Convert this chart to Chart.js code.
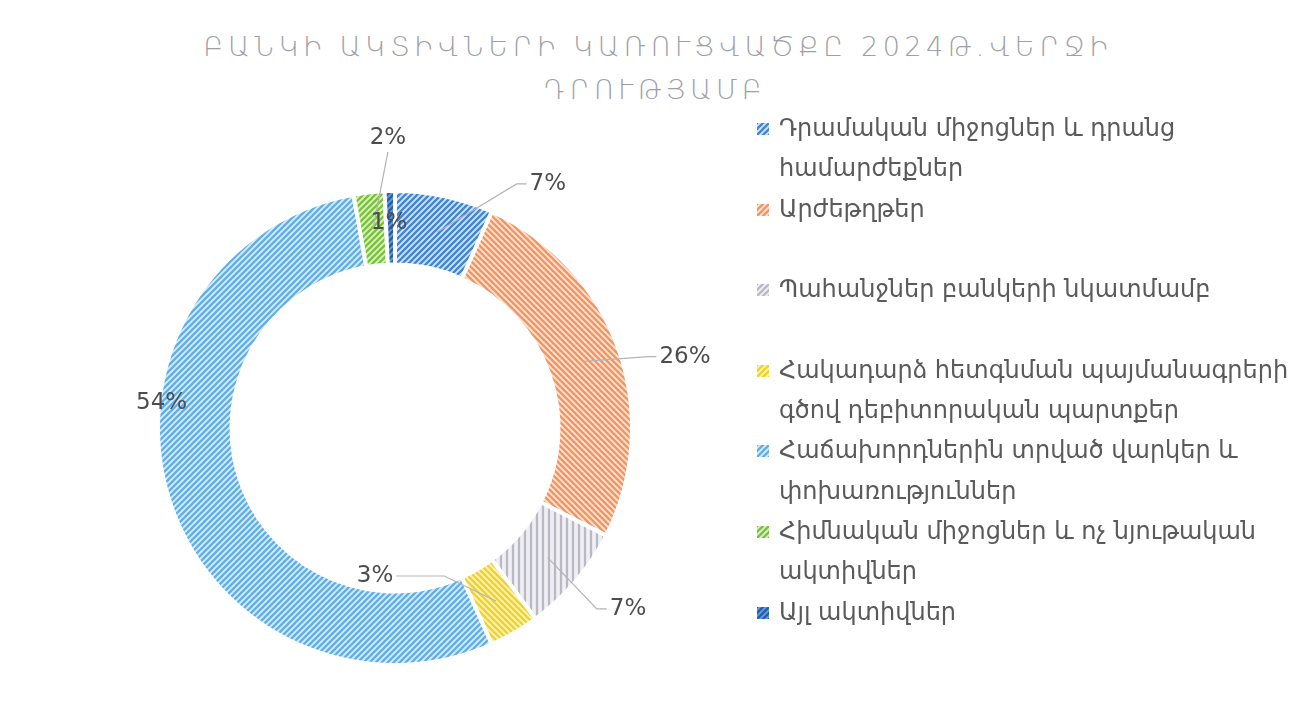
<!DOCTYPE html>
<html lang="hy">
<head>
<meta charset="utf-8">
<script src="https://cdn.jsdelivr.net/npm/chart.js@4.4.1/dist/chart.umd.min.js"></script>
<style>
  html, body { margin: 0; padding: 0; background: #fff; }
  body { width: 1316px; height: 704px; position: relative; overflow: hidden; font-family: "DejaVu Sans", sans-serif; }
  #chart-wrap { position: absolute; left: 0; top: 0; width: 1316px; height: 704px; }
  .title-line { position: absolute; transform: translateX(-50%); color: #9e9ea6; font-size: 27px; font-weight: 200; letter-spacing: 4.5px; line-height: 32px; white-space: nowrap; }
  #legend { position: absolute; left: 757px; top: 108px; margin: 0; padding: 0; list-style: none; }
  #legend li { position: relative; padding-left: 22px; color: #5a5a5a; font-size: 24px; line-height: 40.3px; white-space: nowrap; }
  #legend li canvas { position: absolute; left: 0; top: 15px; width: 12px; height: 12px; }
  #legend .line { height: 40.3px; }
</style>
</head>
<body>
<div class="title-line" id="title-1" style="left: 658px; top: 31px;"></div>
<div class="title-line" id="title-2" style="left: 655px; top: 74px;"></div>
<div id="chart-wrap"><canvas id="chart"></canvas></div>
<ul id="legend"></ul>
<script>
const titleLines = ['ԲԱՆԿԻ ԱԿՏԻՎՆԵՐԻ ԿԱՌՈՒՑՎԱԾՔԸ 2024Թ.ՎԵՐՋԻ', 'ԴՐՈՒԹՅԱՄԲ'];

// legend lines per category (empty second line keeps the gap of the original)
const categories = [
  ['Դրամական միջոցներ և դրանց', 'համարժեքներ'],
  ['Արժեթղթեր', ''],
  ['Պահանջներ բանկերի նկատմամբ', ''],
  ['Հակադարձ հետգնման պայմանագրերի', 'գծով դեբիտորական պարտքեր'],
  ['Հաճախորդներին տրված վարկեր և', 'փոխառություններ'],
  ['Հիմնական միջոցներ և ոչ նյութական', 'ակտիվներ'],
  ['Այլ ակտիվներ'],
];

const shares = [6.7, 25.8, 7.4, 3.4, 53.9, 2.1, 0.7];

const stripeColors = ['#3f86d6', '#f29562', '#b9b9c6', '#f0d22e', '#62aee8', '#79c23c', '#1f5fae'];
const backColors = ['#d2e3f7', '#fde2cf', '#f0f0f4', '#fbf3b0', '#d8ebfa', '#dcf0c4', '#6f9ad6'];
const stripeDirs = ['up', 'down', 'vertical', 'down', 'up', 'up', 'up'];

// label placement relative to each arc: angle nudge (deg), radius as part of outer radius
const labelPlacement = [
  { dAngle: 20, rFactor: 1.215, leader: 'elbow', elbow: 10 },
  { dAngle: 5.6, rFactor: 1.26, leader: 'elbow', elbow: 8 },
  { dAngle: -2.5, rFactor: 1.245, leader: 'elbow', elbow: 10 },
  { dAngle: 37.9, rFactor: 0.63, leader: 'elbow', elbow: 48 },
  { dAngle: 23.1, rFactor: 0.99, leader: null },
  { dAngle: 4.9, rFactor: 1.225, leader: 'below' },
  { dAngle: -0.4, rFactor: 0.865, leader: null },
];

function makePattern(stripe, back, dir) {
  const size = 6;
  const c = document.createElement('canvas');
  c.width = size;
  c.height = size;
  const g = c.getContext('2d');
  g.fillStyle = back;
  g.fillRect(0, 0, size, size);
  g.strokeStyle = stripe;
  g.lineWidth = 2.3;
  g.beginPath();
  if (dir === 'vertical') {
    g.moveTo(size / 2, 0);
    g.lineTo(size / 2, size);
  } else if (dir === 'up') {
    g.moveTo(-1, size + 1);
    g.lineTo(size + 1, -1);
    g.moveTo(-1, 1);
    g.lineTo(1, -1);
    g.moveTo(size - 1, size + 1);
    g.lineTo(size + 1, size - 1);
  } else {
    g.moveTo(-1, -1);
    g.lineTo(size + 1, size + 1);
    g.moveTo(size - 1, -1);
    g.lineTo(size + 1, 1);
    g.moveTo(-1, size - 1);
    g.lineTo(1, size + 1);
  }
  g.stroke();
  return g.createPattern(c, 'repeat');
}

const patterns = stripeColors.map((color, i) => makePattern(color, backColors[i], stripeDirs[i]));

document.getElementById('title-1').textContent = titleLines[0];
document.getElementById('title-2').textContent = titleLines[1];

const legend = document.getElementById('legend');
categories.forEach((lines, i) => {
  const li = document.createElement('li');
  const box = document.createElement('canvas');
  box.width = 12;
  box.height = 12;
  const bctx = box.getContext('2d');
  bctx.fillStyle = makePattern(stripeColors[i], backColors[i], 'up');
  bctx.fillRect(0, 0, 12, 12);
  li.appendChild(box);
  lines.forEach((text) => {
    const div = document.createElement('div');
    div.className = 'line';
    div.textContent = text;
    li.appendChild(div);
  });
  legend.appendChild(li);
});

const outsideLabels = {
  id: 'outsideLabels',
  afterDatasetsDraw(chart) {
    const { ctx } = chart;
    const meta = chart.getDatasetMeta(0);
    ctx.save();
    ctx.font = '23px "DejaVu Sans"';
    ctx.textAlign = 'center';
    ctx.textBaseline = 'middle';
    meta.data.forEach((arc, i) => {
      const { x, y, startAngle, endAngle, innerRadius, outerRadius } = arc.getProps(
        ['x', 'y', 'startAngle', 'endAngle', 'innerRadius', 'outerRadius'], true);
      const mid = (startAngle + endAngle) / 2;
      const midR = (innerRadius + outerRadius) / 2;
      const ax = x + Math.cos(mid) * midR;
      const ay = y + Math.sin(mid) * midR;
      const place = labelPlacement[i];
      const la = mid + place.dAngle * Math.PI / 180;
      const lr = outerRadius * place.rFactor;
      const lx = x + Math.cos(la) * lr;
      const ly = y + Math.sin(la) * lr;
      const text = `${Math.round(shares[i])}%`;
      const w = ctx.measureText(text).width;

      ctx.strokeStyle = '#b4b4b4';
      ctx.lineWidth = 1.2;
      if (place.leader === 'elbow') {
        const side = lx > ax ? -1 : 1;
        const edgeX = lx + side * (w / 2 + 3);
        const elbowX = edgeX + side * place.elbow;
        ctx.beginPath();
        ctx.moveTo(ax, ay);
        ctx.lineTo(elbowX, ly);
        ctx.lineTo(edgeX, ly);
        ctx.stroke();
      } else if (place.leader === 'below') {
        ctx.beginPath();
        ctx.moveTo(lx, ly + 14);
        ctx.lineTo(ax, ay);
        ctx.stroke();
      }
      ctx.fillStyle = '#4d4d4d';
      ctx.fillText(text, lx, ly);
    });
    ctx.restore();
  },
};

new Chart(document.getElementById('chart'), {
  type: 'doughnut',
  data: {
    labels: categories.map((lines) => lines.filter(Boolean).join(' ')),
    datasets: [{
      data: shares,
      backgroundColor: patterns,
      borderColor: '#ffffff',
      borderWidth: 4,
      hoverOffset: 0,
    }],
  },
  options: {
    responsive: true,
    maintainAspectRatio: false,
    animation: false,
    cutout: '69%',
    layout: { padding: { left: 156, right: 682, top: 188, bottom: 36 } },
    plugins: {
      legend: { display: false },
      tooltip: { enabled: false },
    },
  },
  plugins: [outsideLabels],
});
</script>
</body>
</html>
